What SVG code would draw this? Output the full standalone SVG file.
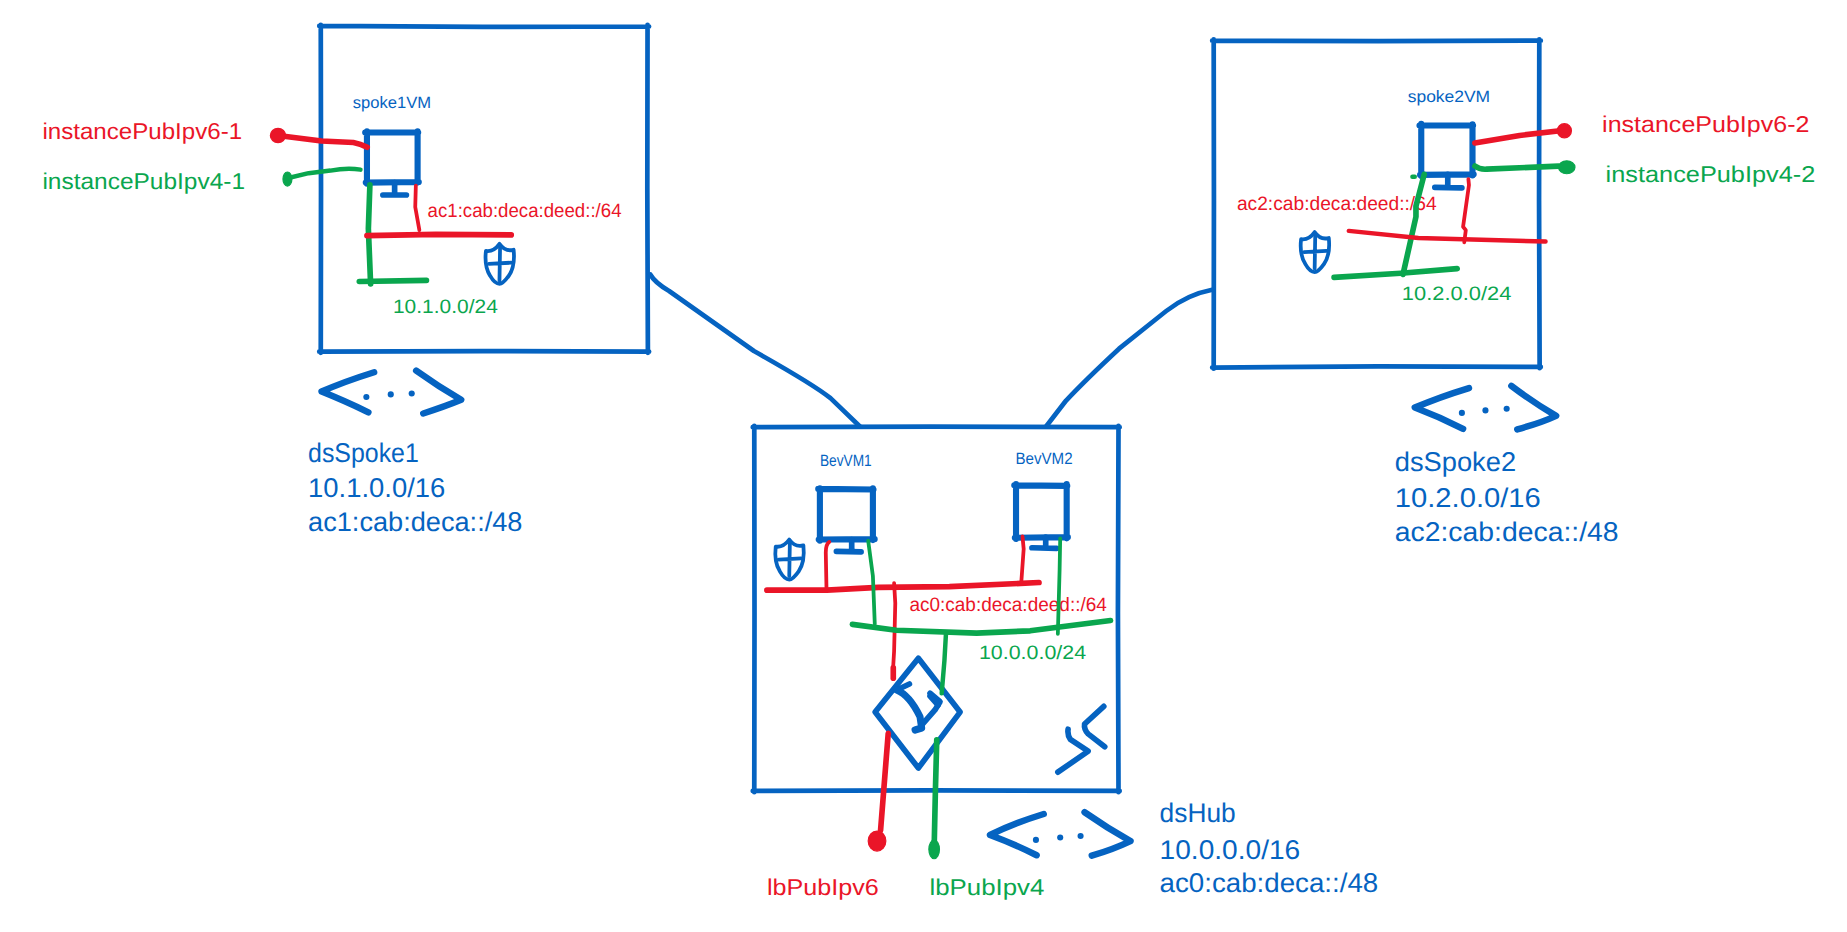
<svg xmlns="http://www.w3.org/2000/svg" width="1847" height="932" viewBox="0 0 1847 932">
<style>
path,ellipse{fill:none;stroke-linecap:round;stroke-linejoin:round}
.b{stroke:#0563c1}.r{stroke:#ea1528}.g{stroke:#0aa64e}
.box{stroke-width:4}.vm{stroke-width:5.200}.icon{stroke-width:3.200}.chev{stroke-width:5.500}.link{stroke-width:4}
.w{stroke-width:3.200}.m{stroke-width:3.800}.t{stroke-width:4.800}
.dr{fill:#ea1528;stroke:#ea1528;stroke-width:1}.dg{fill:#0aa64e;stroke:#0aa64e;stroke-width:1}.db{fill:#0563c1}
text{font-family:"Liberation Sans",Arial,sans-serif;text-rendering:geometricPrecision}
.tb{fill:#0563c1}.tr{fill:#ea1528}.tg{fill:#0aa64e}
.big{font-size:23px}.pub{font-size:19.5px}.sub{font-size:16.5px}.vmn{font-size:14px}
</style>
<defs>
<g id="shield"><path class="b icon" d="M-11.500 -11Q-5 -10 0 -17Q5 -10 12 -12Q13.500 2 8 10Q3 17 0 17Q-4 17 -8 10Q-13 2 -11.500 -11Z"/><path class="b icon" d="M-9 0L10 -1M0.500 -14L0 14"/></g>
</defs>
<g transform="scale(1.178)">
<g id="spoke1">
<path class="b box" d="M271 22L410 22.800L551 22.500M549.700 21L549.500 160L550 299.500M551 298.500L410 298L271 298.500M272.300 299.500L272.500 160L272.300 21"/>
<text class="tb vmn" x="299.500" y="92" textLength="66.500" lengthAdjust="spacingAndGlyphs">spoke1VM</text>
<text class="tr pub" x="36" y="118" textLength="169.500" lengthAdjust="spacingAndGlyphs">instancePubIpv6-1</text>
<text class="tg pub" x="36" y="160.600" textLength="172" lengthAdjust="spacingAndGlyphs">instancePubIpv4-1</text>
<text class="tr sub" x="363" y="184" textLength="164.600" lengthAdjust="spacingAndGlyphs">ac1:cab:deca:deed::/64</text>
<text class="tg sub" x="333.600" y="265.500" textLength="89" lengthAdjust="spacingAndGlyphs">10.1.0.0/24</text>
<text class="tb big" x="261.500" y="392.400" textLength="94" lengthAdjust="spacingAndGlyphs">dsSpoke1</text>
<text class="tb big" x="261.500" y="421.800" textLength="116.500" lengthAdjust="spacingAndGlyphs">10.1.0.0/16</text>
<text class="tb big" x="261.500" y="451" textLength="182" lengthAdjust="spacingAndGlyphs">ac1:cab:deca::/48</text>
<use href="#shield" x="424" y="224"/>
</g>
<g id="spoke1VM">
<path class="b vm" d="M310 112.500L355 112.500M354.500 111.500L354.500 155M355.500 154.500L310.500 155M311.500 156L311.500 111.500"/>
<path class="b t" d="M335 155L335 165M325 165.500L345 165.500"/>
</g>
<g id="dsSpoke1-peering">
<path class="b chev" d="M317.600 316Q292 324 273 332.400Q292 340 312.700 350"/><path class="b chev" d="M353.300 314.600Q372 328 391.500 339.400Q378 345 359.300 351"/>
<circle class="db" cx="311" cy="337" r="2.600"/><circle class="db" cx="331.700" cy="334.800" r="2.600"/><circle class="db" cx="349.500" cy="334" r="2.600"/>
</g>
<g id="spoke2">
<path class="b box" d="M1029 34.500L1170 35L1308 34.500M1306.700 33.500L1306.500 170L1307 312.500M1308 311.500L1170 311L1029 312M1030.300 313L1030.500 170L1030.300 33.500"/>
<text class="tb vmn" x="1195" y="86.600" textLength="70" lengthAdjust="spacingAndGlyphs">spoke2VM</text>
<text class="tr pub" x="1360" y="112" textLength="176" lengthAdjust="spacingAndGlyphs">instancePubIpv6-2</text>
<text class="tg pub" x="1363" y="154.500" textLength="178" lengthAdjust="spacingAndGlyphs">instancePubIpv4-2</text>
<text class="tr sub" x="1050" y="178.500" textLength="169.500" lengthAdjust="spacingAndGlyphs">ac2:cab:deca:deed::/64</text>
<text class="tg sub" x="1190" y="255" textLength="93" lengthAdjust="spacingAndGlyphs">10.2.0.0/24</text>
<text class="tb big" x="1184" y="400" textLength="103" lengthAdjust="spacingAndGlyphs">dsSpoke2</text>
<text class="tb big" x="1184" y="430" textLength="124" lengthAdjust="spacingAndGlyphs">10.2.0.0/16</text>
<text class="tb big" x="1184" y="459" textLength="190" lengthAdjust="spacingAndGlyphs">ac2:cab:deca::/48</text>
<use href="#shield" x="1116" y="214"/>
</g>
<g id="spoke2VM">
<path class="b vm" d="M1205 106.500L1250.500 106.500M1250 105.500L1250 149M1251 148L1205.500 148.500M1206.500 149.500L1206.500 105"/>
<path class="b t" d="M1229 148L1229 159M1218 159L1241 159.500"/>
</g>
<g id="dsSpoke2-peering">
<path class="b chev" d="M1247 329.400Q1222 337 1201 346Q1222 354 1242 364"/><path class="b chev" d="M1283 327.600Q1302 342 1321 353Q1308 359 1288 364.500"/>
<circle class="db" cx="1241" cy="350.500" r="2.600"/><circle class="db" cx="1261" cy="348.400" r="2.600"/><circle class="db" cx="1279" cy="347" r="2.600"/>
</g>
<g id="hub">
<path class="b box" d="M639 362.600L790 362.200L950.500 362.600M949.500 361.500L949 520L949.500 672.500M950.500 671.400L790 671L639 671.400M640.300 672.500L640.500 520L640.300 361.500"/>
<text class="tb vmn" x="696" y="396" textLength="44" lengthAdjust="spacingAndGlyphs">BevVM1</text>
<text class="tb vmn" x="862" y="393.500" textLength="48.500" lengthAdjust="spacingAndGlyphs">BevVM2</text>
<text class="tr sub" x="772" y="518.800" textLength="167.600" lengthAdjust="spacingAndGlyphs">ac0:cab:deca:deed::/64</text>
<text class="tg sub" x="831" y="559.400" textLength="91" lengthAdjust="spacingAndGlyphs">10.0.0.0/24</text>
<text class="tr pub" x="651" y="760" textLength="95" lengthAdjust="spacingAndGlyphs">lbPubIpv6</text>
<text class="tg pub" x="789" y="760" textLength="97.600" lengthAdjust="spacingAndGlyphs">lbPubIpv4</text>
<text class="tb big" x="984.400" y="698" textLength="64.600" lengthAdjust="spacingAndGlyphs">dsHub</text>
<text class="tb big" x="984.400" y="729" textLength="119.400" lengthAdjust="spacingAndGlyphs">10.0.0.0/16</text>
<text class="tb big" x="984.400" y="757" textLength="185.600" lengthAdjust="spacingAndGlyphs">ac0:cab:deca::/48</text>
<use href="#shield" x="670" y="475"/>
<path class="b t" d="M937 599.600L920.700 614.600Q920 619 923.700 623L937.800 634"/>
<path class="b t" d="M906.700 619Q906 624 908.600 627.600L923.700 637.700L898 655.500"/>
</g>
<g id="BevVM1">
<path class="b vm" d="M694.600 415L741.500 415.500M741 414.500L741 458.500M742.500 457.700L695 458M696 459L696 414.500"/>
<path class="b t" d="M723 458L723 468M710 468L731 468.500"/>
</g>
<g id="BevVM2">
<path class="b vm" d="M861 412L906 412.500M905.500 411L905.500 457M906.500 456L861.500 456.500M862.500 457.500L862.500 411"/>
<path class="b t" d="M887.700 456L887.700 465M876 465L897 465.500"/>
</g>
<g id="dsHub-peering">
<path class="b chev" d="M886 691Q860 699 840.400 708.800Q860 716 880 726"/><path class="b chev" d="M920.700 689.500Q940 703 959.700 714Q945 721 926.800 726.400"/>
<circle class="db" cx="879.400" cy="713" r="2.600"/><circle class="db" cx="900" cy="711" r="2.600"/><circle class="db" cx="917.300" cy="709.700" r="2.600"/>
</g>
<g id="loadBalancer">
<path class="b t" d="M779.600 558.700L815 604.500L779.600 652L742.900 604.500Z"/>
<path class="b t" d="M761.200 585.700L772 580.600"/>
<path class="b" stroke-width="6" d="M761.200 585.700Q772 590 781 608.400L782.400 618L776.800 619.700"/>
<path class="b t" d="M782 616L793.700 602.700L798 595.700L789.500 588.500"/>
<path class="b t" d="M789.500 591L796.300 598.500"/>
</g>
<g id="connectors">
<path class="b link" d="M552 233Q556 240 568 247L640 298Q690 326 705 338L730 362"/>
<path class="b link" d="M1029 246Q1008 250 990 264L950 296Q922 322 905 340L888 362"/>
<g id="spoke1-wires">
<path class="r t" d="M236 115L273 119.700L300 121Q306 122 311.700 125"/>
<ellipse class="dr" cx="236" cy="115" rx="6.500" ry="6"/>
<path class="g m" d="M243 151.500L262 147L280.500 144.800Q295 142 306 144"/>
<ellipse class="dg" cx="244" cy="152" rx="3.800" ry="6"/>
<path class="g t" d="M314 157L312.700 194L314.600 241"/>
<path class="g t" d="M305 239L362 238"/>
<path class="r w" d="M353 157.500L352.500 175.700L356 195.400"/>
<path class="r t" d="M311.500 200L370 199L434 199.400"/>
</g>
<g id="spoke2-wires">
<path class="r t" d="M1252 121.400L1290 115L1328 110.600"/>
<circle class="dr" cx="1328" cy="111" r="6"/>
<path class="g t" d="M1252 141Q1256 144 1262 143.600L1323 141"/>
<ellipse class="dg" cx="1330" cy="142" rx="7" ry="5.500"/>
<path class="g t" d="M1209 148L1202 175L1202 184L1191 233"/>
<path class="g m" d="M1199 150L1201 150"/>
<path class="r w" d="M1246.500 152L1247 157L1242 192.500L1244.300 195.400L1243 205.700"/>
<path class="r m" d="M1145 196L1204 202L1312 205"/>
<path class="g t" d="M1132.500 235.500L1189 232L1237 228"/>
</g>
<g id="hub-wires">
<path class="r t" d="M651 501L702 501L745.600 498.600L806 498L882 494.500"/>
<path class="r w" d="M704 460Q701 462 701 469L701.600 499.500"/>
<path class="r w" d="M868 455.400L869 466L867 494"/>
<path class="r w" d="M759 495L760 512L759 552.700L758 570"/>
<path class="r t" d="M758.300 567L758.300 575.800"/>
<path class="g w" d="M737 459L741 489L742.600 529.700"/>
<path class="g w" d="M900 457L899.500 483.600L898 538"/>
<path class="g t" d="M723.600 530L760.800 535L829 537.500L874.500 535.500L942.700 526.800"/>
<path class="g m" d="M803 538.300L801.700 561L799.400 588.600"/>
<path class="r t" d="M754 622.600L747.500 705"/>
<ellipse class="dr" cx="744.500" cy="714" rx="7.500" ry="8.500"/>
<path class="g t" d="M795.200 628L794 673.700L793 720"/>
<ellipse class="dg" cx="793" cy="721" rx="4.500" ry="8"/>
</g>
</g>
</g>
</svg>
